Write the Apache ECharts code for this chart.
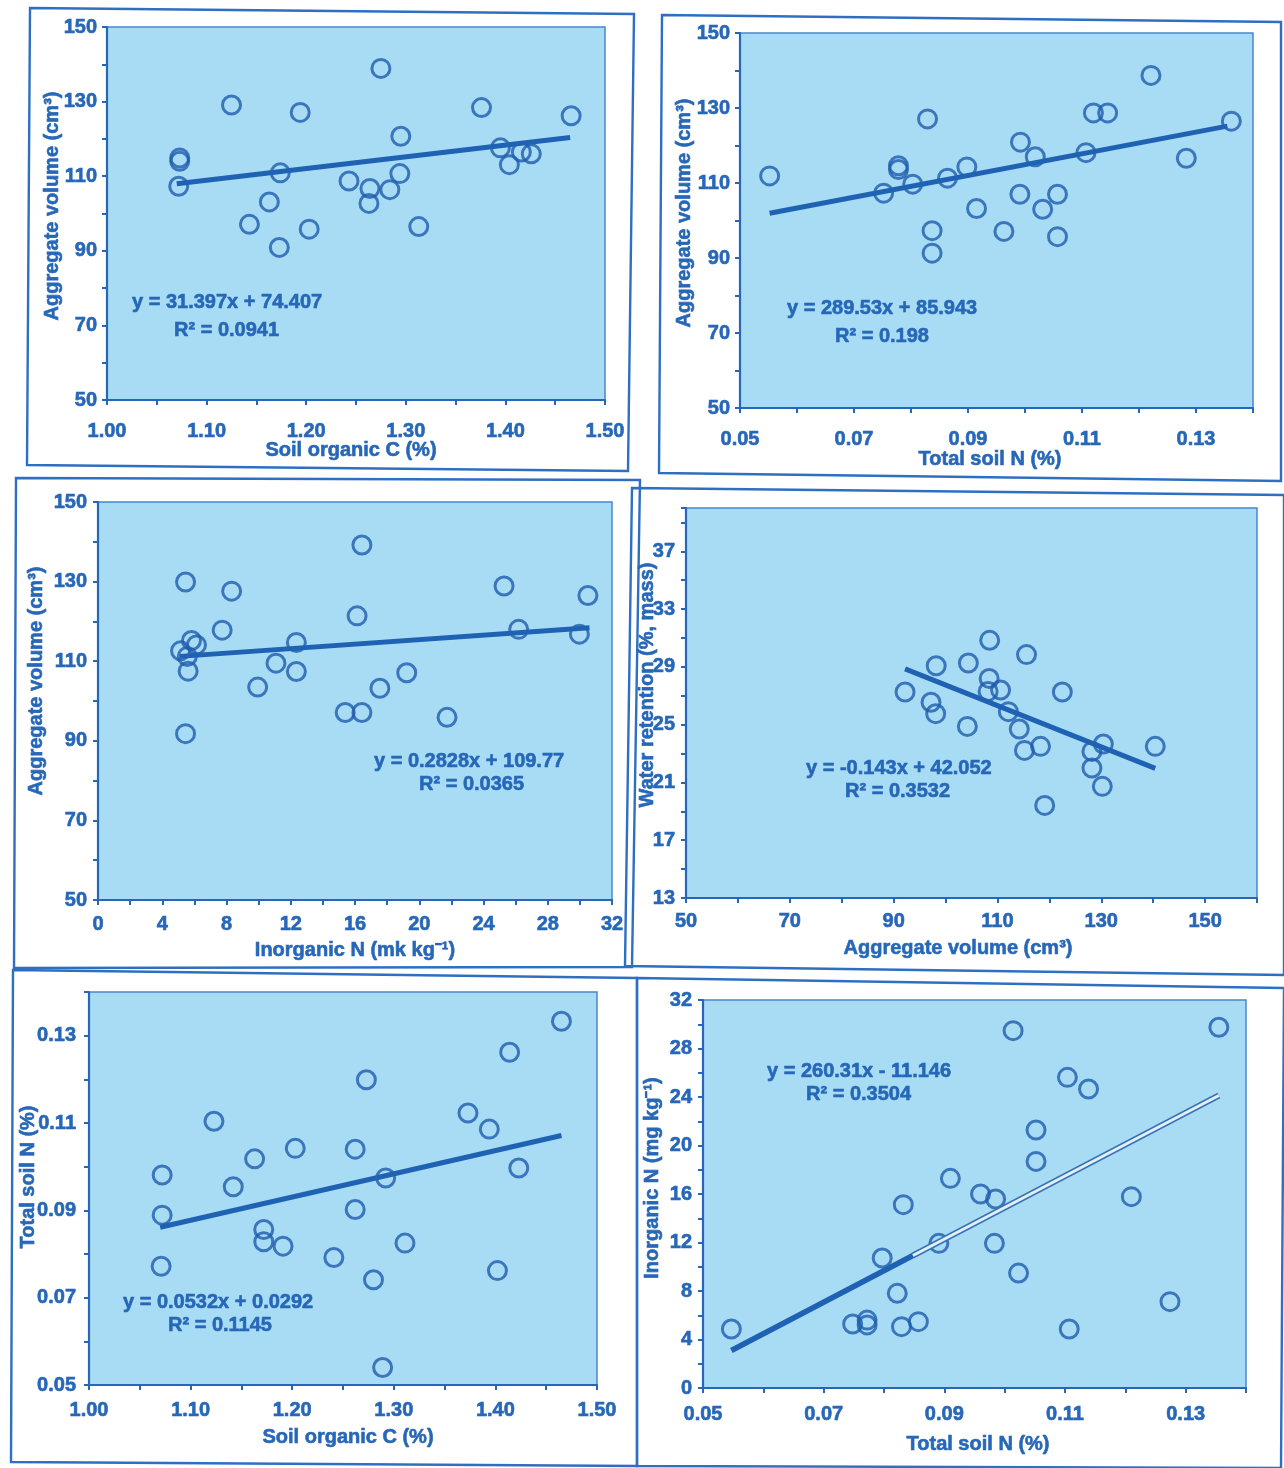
<!DOCTYPE html>
<html>
<head>
<meta charset="utf-8">
<script src="https://cdn.jsdelivr.net/npm/echarts@6/dist/echarts.min.js"></script>
<style>
html, body { margin: 0; padding: 0; background: #ffffff; }
#chart { width: 1284px; height: 1468px; }
</style>
</head>
<body>
<div id="chart"></div>
<script>
// ---- Observations (24 soil samples) ----
// Panel 1: aggregate volume vs soil organic C
const soc1 = [1.073, 1.073, 1.072, 1.125, 1.143, 1.163, 1.173, 1.174, 1.194, 1.203, 1.243, 1.264,
              1.263, 1.275, 1.284, 1.295, 1.294, 1.313, 1.376, 1.395, 1.404, 1.416, 1.426, 1.466];
const agg1 = [114.9, 114.0, 107.3, 129.1, 97.1, 103.1, 90.9, 110.9, 127.1, 95.8, 108.7, 106.7,
              102.7, 138.9, 106.4, 120.7, 110.7, 96.5, 128.4, 117.6, 113.1, 116.5, 116.0, 126.2];

// Panel 2: aggregate volume vs total soil N
const tn2 = [0.0552, 0.0752, 0.0778, 0.0778, 0.0803, 0.0829, 0.0837, 0.0837, 0.0864, 0.0898, 0.0915, 0.0963,
             0.0991, 0.0992, 0.1018, 0.1031, 0.1057, 0.1057, 0.1107, 0.1120, 0.1145, 0.1221, 0.1283, 0.1362];
const agg2 = [111.9, 107.3, 114.6, 113.6, 109.7, 127.1, 97.3, 91.3, 111.3, 114.3, 103.2, 97.1,
              107.0, 120.9, 117.0, 103.0, 107.0, 95.7, 118.1, 128.7, 128.7, 138.7, 116.6, 126.5];

// Panel 3: aggregate volume vs inorganic N
const inN3 = [5.14, 5.56, 5.82, 6.13, 5.61, 5.45, 5.45, 7.73, 8.32, 9.94, 11.08, 12.35,
              12.35, 15.39, 16.13, 16.43, 16.43, 17.55, 19.22, 21.73, 25.28, 26.19, 29.97, 30.5];
const agg3 = [112.6, 111.2, 115.2, 114.1, 107.5, 129.9, 91.8, 117.8, 127.6, 103.5, 109.5, 114.7,
              107.4, 97.1, 121.4, 139.2, 97.1, 103.2, 107.1, 95.9, 128.9, 118.0, 116.8, 126.5];

// Panel 4: water retention vs aggregate volume
const agg4 = [92.2, 97.2, 98.2, 98.1, 104.2, 104.4, 108.5, 108.4, 108.2, 110.6, 112.1,
              114.2, 115.2, 115.6, 118.3, 119.1, 122.5, 128.2, 128.2, 130.4, 130.2, 140.4];
const wr4 = [27.26, 26.55, 29.08, 25.76, 24.88, 29.27, 30.84, 28.2, 27.3, 27.4, 25.9,
             24.7, 23.22, 29.85, 23.5, 19.41, 27.26, 23.15, 22.0, 23.66, 20.73, 23.5];

// Panel 5: total soil N vs soil organic C
const soc5 = [1.072, 1.072, 1.071, 1.123, 1.142, 1.163, 1.172, 1.172, 1.191, 1.203, 1.241, 1.262,
              1.262, 1.273, 1.280, 1.289, 1.292, 1.311, 1.373, 1.394, 1.402, 1.414, 1.423, 1.465];
const tn5 = [0.0981, 0.0889, 0.0772, 0.1104, 0.0954, 0.1018, 0.0856, 0.0828, 0.0818, 0.1042, 0.0792, 0.1040,
             0.0902, 0.1199, 0.0741, 0.0540, 0.0974, 0.0825, 0.1123, 0.1086, 0.0762, 0.1262, 0.0997, 0.1333];

// Panel 6: inorganic N vs total soil N
const tn6 = [0.0547, 0.0748, 0.0772, 0.0772, 0.0797, 0.0822, 0.0829, 0.0832, 0.0857, 0.0891, 0.0910, 0.0960,
             0.0985, 0.0983, 0.1014, 0.1023, 0.1052, 0.1052, 0.1104, 0.1107, 0.1139, 0.1210, 0.1274, 0.1355];
const inN6 = [4.87, 5.28, 5.6, 5.2, 10.72, 7.81, 5.06, 15.12, 5.47, 11.93, 17.29, 16.0,
              15.59, 11.93, 29.47, 9.48, 21.28, 18.69, 25.62, 4.87, 24.66, 15.78, 7.12, 29.75];

// ---- Linear fits (slope, intercept) and the x span each fit is drawn over ----
const fitSlope = [31.397, 289.53, 0.2828, -0.143, 0.0532, 260.31];
const fitIntercept = [74.407, 85.943, 109.77, 42.052, 0.0292, -11.146];
const fitFrom = [1.07, 0.0552, 5.1, 92.2, 1.07, 0.0547];
const fitTo = [1.465, 0.1355, 30.6, 140.4, 1.465, 0.1355];
const fitSplit6 = 0.0848; // where the last fit line changes to its outlined style

const eqText = ['y = 31.397x + 74.407', 'y = 289.53x + 85.943', 'y = 0.2828x + 109.77',
                'y = -0.143x + 42.052', 'y = 0.0532x + 0.0292', 'y = 260.31x - 11.146'];
const r2Text = ['R² = 0.0941', 'R² = 0.198', 'R² = 0.0365', 'R² = 0.3532', 'R² = 0.1145', 'R² = 0.3504'];

const xTitles = ['Soil organic C (%)', 'Total soil N (%)', 'Inorganic N (mk kg⁻¹)',
                 'Aggregate volume (cm³)', 'Soil organic C (%)', 'Total soil N (%)'];
const yTitles = ['Aggregate volume (cm³)', 'Aggregate volume (cm³)', 'Aggregate volume (cm³)',
                 'Water retention (%, mass)', 'Total soil N (%)', 'Inorganic N (mg kg⁻¹)'];

// ---- Styling ----
const INK = '#2767b8';
const MARK = '#1f5cae';
const LINE = '#1f62b4';
const FILL = '#a8dcf4';
const FONT = '"Liberation Sans", Arial, sans-serif';

const zip = (xs, ys) => xs.map((x, i) => [x, ys[i]]);
const fitPts = (i, a, b) => [[a, fitSlope[i] * a + fitIntercept[i]], [b, fitSlope[i] * b + fitIntercept[i]]];

// show a tick label only every `step` units counted from `base`
const every = (step, base, digits) => v => {
  const k = (v - base) / step;
  return Math.abs(k - Math.round(k)) < 1e-6 ? v.toFixed(digits) : '';
};

const grids = [
  { left: 107, top: 27, width: 498, height: 373 },
  { left: 740, top: 33, width: 513, height: 375 },
  { left: 98, top: 502, width: 514, height: 398 },
  { left: 686, top: 508, width: 571, height: 390 },
  { left: 89, top: 992, width: 508, height: 393 },
  { left: 703, top: 1000, width: 543, height: 388 }
].map(g => Object.assign(g, {
  show: true, backgroundColor: FILL, borderColor: '#4a86cc', borderWidth: 1.5, containLabel: false
}));

function axis(gridIndex, min, max, interval, fmt, margin) {
  return {
    type: 'value', gridIndex, min, max, interval,
    axisLine: { show: true, lineStyle: { color: INK, width: 2.2 } },
    axisTick: { show: true, length: 5, lineStyle: { color: INK, width: 2 } },
    splitLine: { show: false },
    axisLabel: {
      formatter: fmt, margin, color: INK, fontSize: 20, fontWeight: 'bold', fontFamily: FONT,
      textBorderColor: INK, textBorderWidth: 0.6
    }
  };
}

const xAxes = [
  axis(0, 1.0, 1.5, 0.05, every(0.1, 1.0, 2), 21),
  axis(1, 0.05, 0.14, 0.01, every(0.02, 0.05, 2), 21),
  axis(2, 0, 32, 2, every(4, 0, 0), 14),
  axis(3, 50, 160, 10, every(20, 50, 0), 13),
  axis(4, 1.0, 1.5, 0.05, every(0.1, 1.0, 2), 15),
  axis(5, 0.05, 0.14, 0.01, every(0.02, 0.05, 2), 16)
];
const yAxes = [
  axis(0, 50, 150, 10, every(20, 50, 0), 10),
  axis(1, 50, 150, 10, every(20, 50, 0), 10),
  axis(2, 50, 150, 10, every(20, 50, 0), 11),
  axis(3, 13, 40, 2, every(4, 13, 0), 11),
  axis(4, 0.05, 0.14, 0.01, every(0.02, 0.05, 2), 13),
  axis(5, 0, 32, 2, every(4, 0, 0), 11)
];

const pointSets = [zip(soc1, agg1), zip(tn2, agg2), zip(inN3, agg3), zip(agg4, wr4), zip(soc5, tn5), zip(tn6, inN6)];

const series = [];
pointSets.forEach((pts, i) => {
  series.push({
    type: 'scatter', xAxisIndex: i, yAxisIndex: i, data: pts,
    symbol: 'circle', symbolSize: 18, z: 3,
    itemStyle: { color: 'rgba(0,0,0,0)', borderColor: MARK, borderWidth: 3 }
  });
  if (i < 5) {
    series.push({
      type: 'line', xAxisIndex: i, yAxisIndex: i, data: fitPts(i, fitFrom[i], fitTo[i]),
      showSymbol: false, z: 4, lineStyle: { color: LINE, width: 5 }
    });
  }
});
// last fit: solid lower part, outlined upper part
series.push({
  type: 'line', xAxisIndex: 5, yAxisIndex: 5, data: fitPts(5, fitFrom[5], fitSplit6),
  showSymbol: false, z: 4, lineStyle: { color: LINE, width: 5.5 }
});
series.push({
  type: 'line', xAxisIndex: 5, yAxisIndex: 5, data: fitPts(5, fitSplit6, fitTo[5]),
  showSymbol: false, z: 4, lineStyle: { color: '#3a72b8', width: 6 }
});
series.push({
  type: 'line', xAxisIndex: 5, yAxisIndex: 5, data: fitPts(5, fitSplit6, fitTo[5]),
  showSymbol: false, z: 5, lineStyle: { color: '#e2f0f8', width: 3 }
});

// ---- Text and panel frames ----
const textStyle = extra => Object.assign({
  fill: INK, font: 'bold 20px ' + FONT, stroke: INK, lineWidth: 0.6,
  textAlign: 'left', textVerticalAlign: 'middle'
}, extra || {});
const txt = (x, y, text, extra) => ({ type: 'text', x, y, z: 10, style: textStyle(Object.assign({ text }, extra || {})) });

const eqPos = [[132, 302, 174, 330], [787, 308, 835, 336], [374, 761, 419, 784],
               [806, 768, 845, 791], [123, 1302, 168, 1325], [767, 1071, 806, 1094]];
const xTitlePos = [[351, 450], [990, 459], [355, 950], [958, 948], [348, 1437], [978, 1444]];
const yTitlePos = [[52, 206], [684, 213], [36, 681], [647, 685], [28, 1177], [652, 1178]];

const graphics = [];
eqPos.forEach((p, i) => {
  graphics.push(txt(p[0], p[1], eqText[i]));
  graphics.push(txt(p[2], p[3], r2Text[i]));
  graphics.push(txt(xTitlePos[i][0], xTitlePos[i][1], xTitles[i], { textAlign: 'center' }));
  graphics.push({
    type: 'text', x: yTitlePos[i][0], y: yTitlePos[i][1], rotation: Math.PI / 2, z: 10,
    style: textStyle({ text: yTitles[i], textAlign: 'center' })
  });
});

const frames = [
  [[30, 8], [634, 14], [628, 471], [27, 465]],
  [[662, 15], [1281, 22], [1281, 481], [659, 473]],
  [[16, 478], [640, 480], [632, 967], [14, 968]],
  [[632, 488], [1284, 495], [1284, 975], [625, 966]],
  [[13, 970], [637, 978], [637, 1466], [11, 1462]],
  [[637, 978], [1284, 988], [1281, 1468], [637, 1466]]
];
frames.forEach(f => graphics.push({
  type: 'polygon', z: 1, shape: { points: f },
  style: { fill: 'none', stroke: '#2f6fc2', lineWidth: 2.4 }
}));

const chart = echarts.init(document.getElementById('chart'));
chart.setOption({
  animation: false,
  backgroundColor: '#ffffff',
  grid: grids,
  xAxis: xAxes,
  yAxis: yAxes,
  series,
  graphic: graphics
});
</script>
</body>
</html>
